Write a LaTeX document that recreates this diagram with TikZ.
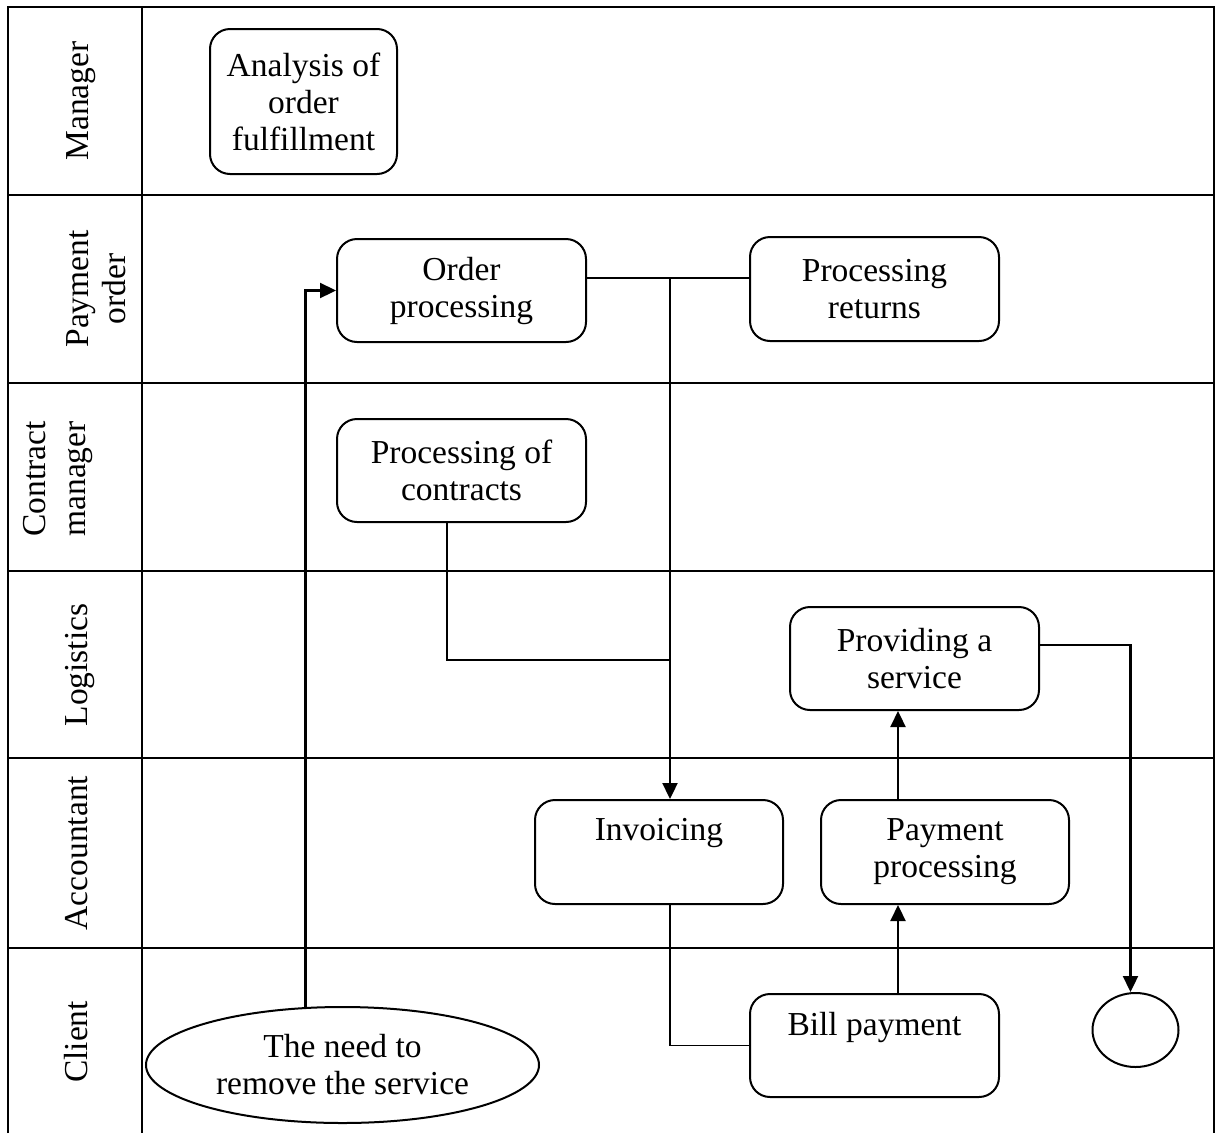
\documentclass[tikz,border=0pt]{standalone}
\usepackage{fontspec}
\setmainfont{Liberation Serif}
\usetikzlibrary{arrows.meta,shapes.geometric}
\begin{document}
\begin{tikzpicture}[x=1pt,y=-1pt,
  lane/.style={line width=2.6pt},
  task/.style={draw,line width=2pt,rounded corners=20pt,align=center,inner sep=0pt,
    font=\fontsize{33.5}{37}\selectfont},
  lanelabel/.style={rotate=90,anchor=base,inner sep=0pt,font=\fontsize{33.5}{37}\selectfont},
  flow/.style={line width=2.3pt},
  arr/.style={flow,-{Triangle[length=16pt,width=15pt]}}]
\useasboundingbox (0,0) rectangle (1221,1133);
\fill[white] (0,0) rectangle (1221,1133);

% swimlane grid
\draw[lane] (8,1133) -- (8,7) -- (1214,7) -- (1214,1133);
\draw[lane] (142,7) -- (142,1133);
\foreach \yy in {195,383,571,758,948}
  \draw[lane] (8,\yy) -- (1214,\yy);

% lane titles
\node[lanelabel] (lmgr) at (88,101) {Manager};
\node[lanelabel] (lpay1) at (88,289) {Payment};
\node[lanelabel] (lpay2) at (125,289) {order};
\node[lanelabel] (lcon1) at (45,479) {Contract};
\node[lanelabel] (lcon2) at (85,479) {manager};
\node[lanelabel] (llog) at (87,665) {Logistics};
\node[lanelabel] (lacc) at (87,853) {Accountant};
\node[lanelabel] (lcli) at (87,1042) {Client};

% activities
\node[task,minimum width=187pt,minimum height=145pt] (anal) at (303.5,101.5) {Analysis of\\order\\fulfillment};
\node[task,minimum width=249pt,minimum height=103pt] (order) at (461.5,290.5) {Order\\processing};
\node[task,minimum width=249pt,minimum height=104pt] (ret) at (874.5,289) {Processing\\returns};
\node[task,minimum width=249pt,minimum height=103pt] (contr) at (461.5,470.5) {Processing of\\contracts};
\node[task,minimum width=249pt,minimum height=103pt] (prov) at (914.5,658.5) {Providing a\\service};
\node[task,minimum width=248pt,minimum height=104pt] (invo) at (659,852) {Invoicing\\\phantom{g}};
\node[task,minimum width=248pt,minimum height=104pt] (pay) at (945,852) {Payment\\processing};
\node[task,minimum width=249pt,minimum height=103pt] (bill) at (874.5,1045.5) {Bill payment\\\phantom{g}};
\node[draw,ellipse,line width=2pt,minimum width=393pt,minimum height=116pt,inner sep=0pt,
  align=center,font=\fontsize{33.5}{37}\selectfont] (need) at (342.5,1065) {The need to\\remove the service};
\node[draw,ellipse,line width=2pt,minimum width=86pt,minimum height=74pt,inner sep=0pt] (endc) at (1135.5,1030) {};

% junction points
\coordinate (j1) at (670,278);
\coordinate (j2) at (670,660);
\coordinate (k) at (898,0);

% flows
\draw[arr] ([xshift=-37pt,yshift=-1pt]need.north) |- (order.west);
\draw[flow] (order.east |- j1) -- (ret.west |- j1);
\draw[arr] (j1) -- (j1 |- invo.north);
\draw[flow] ([xshift=-14.5pt]contr.south) |- (j2);
\draw[flow,line width=1.8pt] (j1 |- invo.south) |- (bill.west);
\draw[arr] (k |- bill.north) -- (k |- pay.south);
\draw[arr] (k |- pay.north) -- (k |- prov.south);
\draw[arr] ([yshift=13.5pt]prov.east) -| ([xshift=-5pt]endc.north);
\end{tikzpicture}
\end{document}
